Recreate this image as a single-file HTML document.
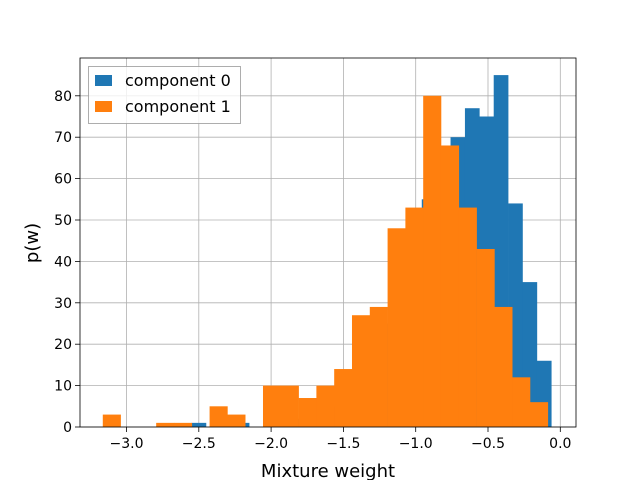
<!DOCTYPE html>
<html><head><meta charset="utf-8"><style>
html,body{margin:0;padding:0;background:#fff;}
svg text{font-family:"DejaVu Sans","Liberation Sans",sans-serif;}
</style></head><body>
<svg id="chart" width="640" height="480" xmlns="http://www.w3.org/2000/svg">
<g id="grid"></g>
<g id="bars"></g>
<g id="axes"></g>
</svg>
<script>
const xTicks = [-3.0, -2.5, -2.0, -1.5, -1.0, -0.5, 0.0];
const yTicks = [0, 10, 20, 30, 40, 50, 60, 70, 80];
const blueStart = -2.55;
const blueWidth = 0.0995;
const blueCounts = [1,0,0,1,0,0,1,2,3,5,8,12,18,25,35,45,55,65,70,77,75,85,54,35,16];
const orangeStart = -3.164;
const orangeWidth = 0.1231;
const orangeCounts = [3,0,0,1,1,0,5,3,0,10,10,7,10,14,27,29,48,53,80,68,53,43,29,12,6];

const L=80,R=576,T=58,B=427;
const xs = v => 560.3 + v*144.6;
const ys = v => 427 - v*4.14;
const NS="http://www.w3.org/2000/svg";
function mk(tag, parent){const e=document.createElementNS(NS,tag);parent.appendChild(e);return e;}
const grid=document.getElementById('grid'), bars=document.getElementById('bars'), axes=document.getElementById('axes');

xTicks.forEach(t=>{
  const l=mk('line',grid);
  
  
  l.setAttribute('x1',xs(t));l.setAttribute('x2',xs(t));l.setAttribute('y1',T);l.setAttribute('y2',B);
  l.setAttribute('stroke','#b0b0b0');l.setAttribute('stroke-width','0.8');
  const tk=mk('line',axes);
  
  
  tk.setAttribute('x1',xs(t));tk.setAttribute('x2',xs(t));tk.setAttribute('y1',B);tk.setAttribute('y2',B+5);
  tk.setAttribute('stroke','#000');tk.setAttribute('stroke-width','0.8');
  const tx=mk('text',axes);
  
  
  tx.setAttribute('x',xs(t));tx.setAttribute('y',B+21);tx.setAttribute('text-anchor','middle');tx.setAttribute('font-size','14');
  tx.textContent=(t<0?'\u2212':'')+Math.abs(t).toFixed(1);
});
yTicks.forEach(t=>{
  const l=mk('line',grid);
  
  
  l.setAttribute('x1',L);l.setAttribute('x2',R);l.setAttribute('y1',ys(t));l.setAttribute('y2',ys(t));
  l.setAttribute('stroke','#b0b0b0');l.setAttribute('stroke-width','0.8');
  const tk=mk('line',axes);
  
  
  tk.setAttribute('x1',L-5);tk.setAttribute('x2',L);tk.setAttribute('y1',ys(t));tk.setAttribute('y2',ys(t));
  tk.setAttribute('stroke','#000');tk.setAttribute('stroke-width','0.8');
  const tx=mk('text',axes);
  
  
  tx.setAttribute('x',L-8);tx.setAttribute('y',ys(t)+5);tx.setAttribute('text-anchor','end');tx.setAttribute('font-size','14');
  tx.textContent=t;
});
function drawBars(start,width,counts,color,name){
  counts.forEach((c,i)=>{
    if(c<=0) return;
    const x0=xs(start+i*width), x1=xs(start+(i+1)*width);
    const r=mk('rect',bars);
    
    
    r.setAttribute('x',x0);r.setAttribute('width',x1-x0+0.3);
    r.setAttribute('y',ys(c));r.setAttribute('height',B-ys(c));
    r.setAttribute('fill',color);
  });
}
drawBars(blueStart,blueWidth,blueCounts,'#1f77b4','bar-component-0');
drawBars(orangeStart,orangeWidth,orangeCounts,'#ff7f0e','bar-component-1');

const fr=mk('rect',axes);


fr.setAttribute('x',L);fr.setAttribute('y',T);fr.setAttribute('width',R-L);fr.setAttribute('height',B-T);
fr.setAttribute('fill','none');fr.setAttribute('stroke','#000');fr.setAttribute('stroke-width','0.8');
</script>
<g>
</g>
<script>
(function(){
const NS="http://www.w3.org/2000/svg";
const svg=document.getElementById('chart');
function mk(tag){const e=document.createElementNS(NS,tag);svg.appendChild(e);return e;}
const lg=mk('rect');


lg.setAttribute('x',88.5);lg.setAttribute('y',66.5);lg.setAttribute('width',152);lg.setAttribute('height',57);
lg.setAttribute('fill','#fff');lg.setAttribute('fill-opacity','0.8');lg.setAttribute('stroke','#999');lg.setAttribute('stroke-width','0.8');
const items=[['component 0','#1f77b4',80],['component 1','#ff7f0e',106]];
items.forEach(it=>{
  const s=mk('rect');
  
  
  s.setAttribute('x',95);s.setAttribute('y',it[2]-5);s.setAttribute('width',17);s.setAttribute('height',11);s.setAttribute('fill',it[1]);
  const t=mk('text');
  
  
  t.setAttribute('x',125);t.setAttribute('y',it[2]+6);t.setAttribute('font-size','16');
  t.textContent=it[0];
});
const xl=mk('text');


xl.setAttribute('x',328);xl.setAttribute('y',477);xl.setAttribute('text-anchor','middle');xl.setAttribute('font-size','18');
xl.textContent='Mixture weight';
const yl=mk('text');


yl.setAttribute('x',0);yl.setAttribute('y',0);yl.setAttribute('text-anchor','middle');yl.setAttribute('font-size','18');
yl.setAttribute('transform','translate(38,243) rotate(-90)');
yl.textContent='p(w)';
})();
</script>
</body></html>
